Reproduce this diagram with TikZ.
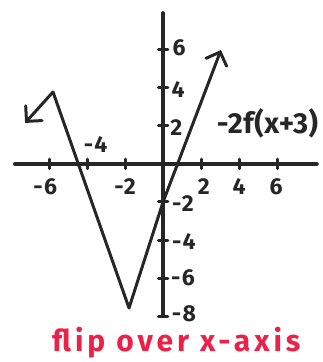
\documentclass[tikz,border=0pt]{standalone}
\usepackage{fontspec}
\setmainfont{Fira Sans}
\usetikzlibrary{arrows.meta,positioning}
\definecolor{ink}{RGB}{38,38,38}
\definecolor{note}{RGB}{236,32,72}

\begin{document}
\begin{tikzpicture}[x=19pt, y=19pt,
  axis/.style={draw=ink, line width=3.6pt, line cap=round},
  tick/.style={draw=ink, line width=3pt, line cap=round},
  graph/.style={draw=ink, line width=3pt, line cap=round, line join=round},
  tip/.style={-{Straight Barb[length=11pt, width=22pt, line cap=round]}},
  num/.style={font=\fontsize{23}{23}\selectfont\bfseries\addfontfeatures{LetterSpace=6}, text=ink, inner sep=0pt},
  fn/.style={font=\fontsize{29}{29}\selectfont\bfseries\addfontfeatures{LetterSpace=2}, text=ink, inner sep=0pt},
  hint/.style={font=\fontsize{30}{30}\selectfont\bfseries\addfontfeatures{LetterSpace=13}, text=note, inner sep=0pt}]
  \useasboundingbox (-8.58,-10.42) rectangle (8.37,8.63);
  % axes
  \coordinate (xl) at (-7.8,0);
  \coordinate (xr) at (8.1,0);
  \coordinate (yt) at (0,7.95);
  \coordinate (yb) at (0,-7.95);
  \draw[axis] (xl) -- (xr);
  \draw[axis] (yb) -- (yt);
  % ticks on the x axis
  \draw[tick] (-6,-0.25) -- (-6,0.25);
  \draw[tick] (-4,-0.25) -- (-4,0.25);
  \draw[tick] (-2,-0.25) -- (-2,0.25);
  \draw[tick] (2,-0.25) -- (2,0.25);
  \draw[tick] (4,-0.25) -- (4,0.25);
  \draw[tick] (6,-0.25) -- (6,0.25);
  % ticks on the y axis
  \draw[tick] (-0.25,6) -- (0.25,6);
  \draw[tick] (-0.25,4) -- (0.25,4);
  \draw[tick] (-0.25,2) -- (0.25,2);
  \draw[tick] (-0.25,-2) -- (0.25,-2);
  \draw[tick] (-0.25,-4) -- (0.25,-4);
  \draw[tick] (-0.25,-6) -- (0.25,-6);
  \draw[tick] (-0.25,-8) -- (0.25,-8);
  % tick labels
  \node[num] (xm6) at (-6.2,-1.2) {-6};
  \node[num] (xm4) at (-3.55,1.0) {-4};
  \node[num] (xm2) at (-2.0,-1.2) {-2};
  \node[num] (xp2) at (2.15,-1.2) {2};
  \node[num] (xp4) at (4.0,-1.2) {4};
  \node[num] (xp6) at (5.95,-1.2) {6};
  \node[num] (yp6) at (0.85,6.1) {6};
  \node[num] (yp4) at (0.8,3.9) {4};
  \node[num] (yp2) at (0.7,1.9) {2};
  \node[num] (ym2) at (1.05,-2.1) {-2};
  \node[num] (ym4) at (1.1,-4.1) {-4};
  \node[num] (ym6) at (1.05,-6.0) {-6};
  \node[num] (ym8) at (1.1,-7.9) {-8};
  % the graph
  \coordinate (lt) at (-7.26,2.16);
  \coordinate (peak) at (-5.79,3.79);
  \coordinate (low) at (-1.79,-7.58);
  \coordinate (cut) at (0,-2);
  \coordinate (rt) at (3.05,6.0);
  \draw[graph, tip] (peak) -- (lt);
  \draw[graph, tip] (peak) -- (low) -- (cut) -- (rt);
  \node[fn] (name) at (5.5,2.15) {-2f(x+3)};
  % note
  \node[hint] (flip) at (0.7,-9.4) {flip over x-axis};
\end{tikzpicture}
\end{document}
